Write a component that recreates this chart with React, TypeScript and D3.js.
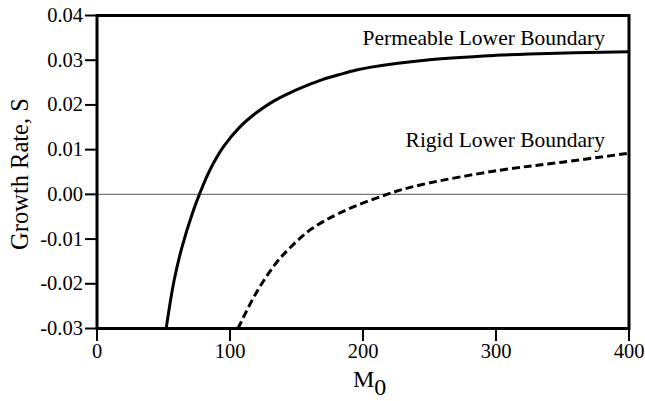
import React from 'react';
import * as d3 from 'd3';

// permeable lower boundary (solid)
const permeableM = [
  52, 58, 64, 72, 77, 85, 95, 107.5, 120, 132.5, 145, 157.5, 170, 182.5, 195, 205, 250, 300,
  325, 400,
];
const permeableS = [
  -0.03, -0.0192, -0.0117, -0.004, 0, 0.0055, 0.0106, 0.0151, 0.0183, 0.0208, 0.0227, 0.0243,
  0.0257, 0.0268, 0.0278, 0.0284, 0.0301, 0.0311, 0.0314, 0.0319,
];

// rigid lower boundary (dashed)
const rigidM = [106, 119, 134, 145, 160, 183, 218, 243, 303, 350, 400];
const rigidS = [
  -0.03, -0.0224, -0.0156, -0.0120, -0.008, -0.0041, 0, 0.0021, 0.0054, 0.0072, 0.0092,
];

const xTicks = [0, 100, 200, 300, 400];
const yTicks = [-0.03, -0.02, -0.01, 0, 0.01, 0.02, 0.03, 0.04];

const font = '"Liberation Serif", "Times New Roman", serif';

function App() {
  const left = 97;
  const right = 629;
  const top = 15.5;
  const bottom = 328.5;

  const xScale = d3.scaleLinear().domain([0, 400]).range([left, right]);
  const yScale = d3.scaleLinear().domain([-0.03, 0.04]).range([bottom, top]);

  const line = d3
    .line<[number, number]>()
    .x((d) => xScale(d[0]))
    .y((d) => yScale(d[1]))
    .curve(d3.curveCatmullRom.alpha(0.5));

  const permeable = permeableM.map((m, i) => [m, permeableS[i]] as [number, number]);
  const rigid = rigidM.map((m, i) => [m, rigidS[i]] as [number, number]);

  return (
    <svg
      width={645}
      height={401}
      style={{ position: 'absolute', left: 0, top: 0, background: '#fff' }}
      fontFamily={font}
    >
      {/* zero line */}
      <line
        x1={left}
        x2={right}
        y1={yScale(0)}
        y2={yScale(0)}
        stroke="#777"
        strokeWidth={1.2}
      />

      <path d={line(permeable) ?? ''} fill="none" stroke="#000" strokeWidth={3} />
      <path
        d={line(rigid) ?? ''}
        fill="none"
        stroke="#000"
        strokeWidth={3}
        strokeDasharray="8 4"
      />

      {/* frame */}
      <rect
        x={left}
        y={top}
        width={right - left}
        height={bottom - top}
        fill="none"
        stroke="#000"
        strokeWidth={3}
      />

      {yTicks.map((t) => (
        <g key={t} transform={`translate(0 ${yScale(t)})`}>
          <line x1={85} x2={left} stroke="#000" strokeWidth={2} />
          <text x={83} y={6.5} textAnchor="end" fontSize={20.5}>
            {t.toFixed(2)}
          </text>
        </g>
      ))}

      {xTicks.map((t) => (
        <g key={t} transform={`translate(${xScale(t)} 0)`}>
          <line y1={bottom} y2={341} stroke="#000" strokeWidth={2} />
          <text y={358} textAnchor="middle" fontSize={20.5}>
            {t}
          </text>
        </g>
      ))}

      <text
        transform="translate(28 174) rotate(-90)"
        textAnchor="middle"
        fontSize={24.5}
      >
        Growth Rate, S
      </text>
      <text x={353} y={387} fontSize={24}>
        M
        <tspan dy={8}>0</tspan>
      </text>

      <text x={605} y={45} textAnchor="end" fontSize={21.5}>
        Permeable Lower Boundary
      </text>
      <text x={605} y={147} textAnchor="end" fontSize={21.5}>
        Rigid Lower Boundary
      </text>
    </svg>
  );
}

export default App;
